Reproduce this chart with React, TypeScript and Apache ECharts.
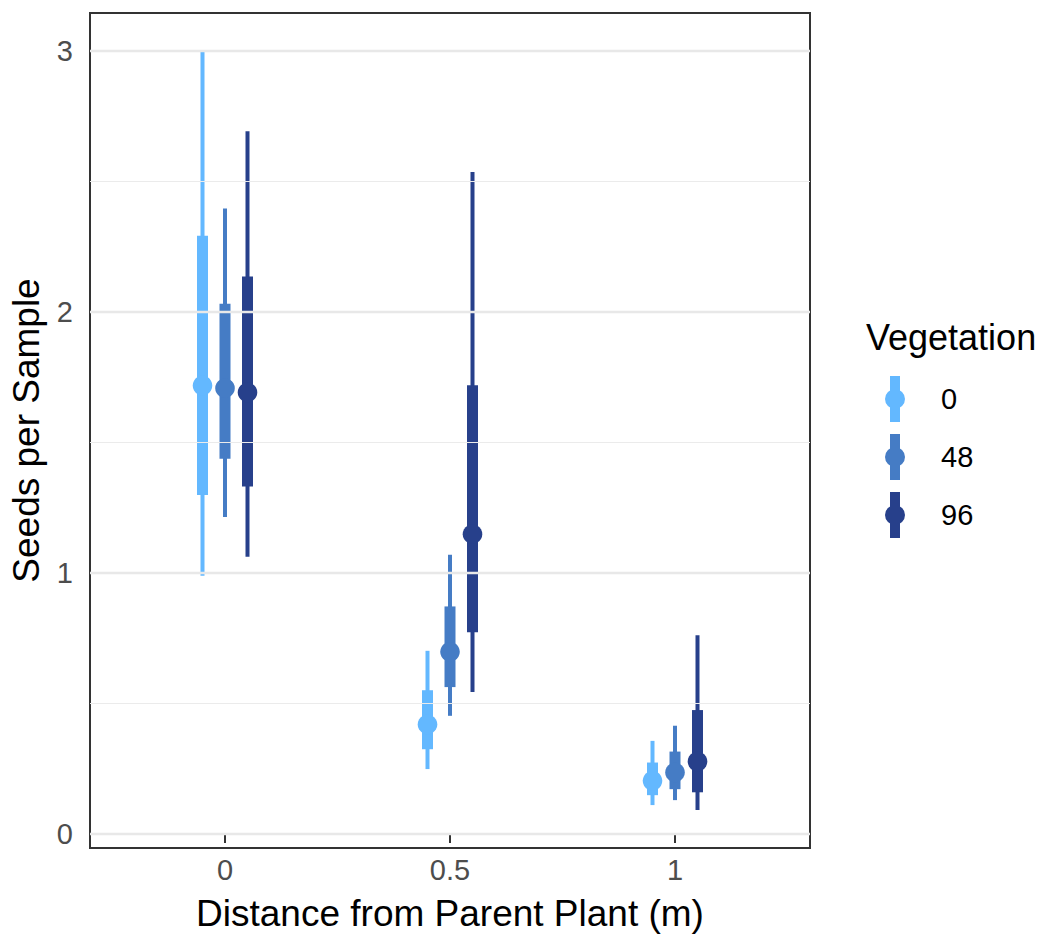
import React, { useEffect, useRef } from "react";
import * as echarts from "echarts";

const FONT = '"Liberation Sans", Arial, Helvetica, sans-serif';

// Categories
const distances = [0, 0.5, 1];
const distanceLabels = ["0", "0.5", "1"];
const vegetation = ["0", "48", "96"];
const dodge = [-0.05, 0, 0.05];
const colors = ["#63B8FF", "#457CC5", "#27408B"];

// Estimates per vegetation level, one value per distance
const mean0 = [1.718, 0.42, 0.204];
const lo95_0 = [0.99, 0.249, 0.111];
const hi95_0 = [3.0, 0.702, 0.357];
const lo66_0 = [1.299, 0.325, 0.149];
const hi66_0 = [2.292, 0.551, 0.274];

const mean48 = [1.708, 0.698, 0.236];
const lo95_48 = [1.215, 0.453, 0.13];
const hi95_48 = [2.396, 1.07, 0.415];
const lo66_48 = [1.4375, 0.563, 0.172];
const hi66_48 = [2.032, 0.872, 0.316];

const mean96 = [1.692, 1.149, 0.278];
const lo95_96 = [1.0625, 0.544, 0.092];
const hi95_96 = [2.692, 2.536, 0.762];
const lo66_96 = [1.331, 0.773, 0.16];
const hi66_96 = [2.136, 1.719, 0.475];

const yMajor = [0, 1, 2, 3];
const yMinor = [0.5, 1.5, 2.5];
const yLabels = ["0", "1", "2", "3"];

const groups = [
  { mean: mean0, lo95: lo95_0, hi95: hi95_0, lo66: lo66_0, hi66: hi66_0 },
  { mean: mean48, lo95: lo95_48, hi95: hi95_48, lo66: lo66_48, hi66: hi66_48 },
  { mean: mean96, lo95: lo95_96, hi95: hi95_96, lo66: lo66_96, hi66: hi66_96 },
];

const KEY_ICON =
  "path://M5,0 L15,0 L15,46 L5,46 Z M0,23 A10,10 0 1,1 20,23 A10,10 0 1,1 0,23 Z";

export default function App() {
  const ref = useRef<HTMLDivElement>(null);

  useEffect(() => {
    if (!ref.current) return;
    document.body.style.margin = "0";
    const chart = echarts.init(ref.current, undefined, { renderer: "svg" });

    const renderItem = (params: any, api: any) => {
      const x = api.value(0);
      const m = api.value(1);
      const top95 = api.coord([x, api.value(3)]);
      const bot95 = api.coord([x, api.value(2)]);
      const top66 = api.coord([x, api.value(5)]);
      const bot66 = api.coord([x, api.value(4)]);
      const pt = api.coord([x, m]);
      const color = api.visual("color");
      return {
        type: "group",
        children: [
          {
            type: "line",
            shape: { x1: pt[0], y1: top95[1], x2: pt[0], y2: bot95[1] },
            style: { stroke: color, lineWidth: 4 },
          },
          {
            type: "rect",
            shape: { x: pt[0] - 5.5, y: top66[1], width: 11, height: bot66[1] - top66[1] },
            style: { fill: color },
          },
          {
            type: "circle",
            shape: { cx: pt[0], cy: pt[1], r: 9.8 },
            style: { fill: color },
          },
        ],
      };
    };

    const dataSeries = vegetation.map((name, gi) => ({
      name,
      type: "custom",
      z: 3,
      renderItem,
      itemStyle: { color: colors[gi] },
      encode: { x: 0, y: [1, 2, 3, 4, 5] },
      data: distances.map((d, i) => [
        d + dodge[gi],
        groups[gi].mean[i],
        groups[gi].lo95[i],
        groups[gi].hi95[i],
        groups[gi].lo66[i],
        groups[gi].hi66[i],
      ]),
    }));

    const option: any = {
      animation: false,
      textStyle: { fontFamily: FONT },
      grid: {
        left: 88,
        right: 232,
        top: 13,
        bottom: 88,
        show: true,
        borderColor: "#333333",
        borderWidth: 2,
        backgroundColor: "transparent",
      },
      xAxis: {
        type: "value",
        min: -0.3,
        max: 1.3,
        splitLine: { show: false },
        axisLine: { show: false },
        axisTick: {
          show: true,
          customValues: distances,
          length: 9,
          lineStyle: { color: "#333333", width: 2 },
        },
        axisLabel: {
          customValues: distances,
          fontSize: 29,
          color: "#4D4D4D",
          margin: 7,
          fontFamily: FONT,
          formatter: (v: number) => distanceLabels[distances.indexOf(v)] ?? String(v),
        },
        name: "Distance from Parent Plant (m)",
        nameLocation: "middle",
        nameGap: 47,
        nameTextStyle: { fontSize: 37, color: "#000000", fontFamily: FONT },
      },
      yAxis: {
        type: "value",
        min: -0.0534,
        max: 3.1454,
        splitLine: { show: false },
        axisLine: { show: false },
        axisTick: {
          show: true,
          customValues: yMajor,
          length: 10,
          lineStyle: { color: "#333333", width: 2 },
        },
        axisLabel: {
          customValues: yMajor,
          fontSize: 29,
          color: "#4D4D4D",
          margin: 17,
          fontFamily: FONT,
          formatter: (v: number) => yLabels[yMajor.indexOf(v)] ?? String(v),
        },
        name: "Seeds per Sample",
        nameLocation: "middle",
        nameGap: 45,
        nameTextStyle: { fontSize: 37, color: "#000000", fontFamily: FONT },
      },
      legend: {
        data: vegetation,
        orient: "vertical",
        left: 885,
        top: 376,
        padding: 0,
        itemWidth: 20,
        itemHeight: 46,
        itemGap: 12,
        icon: KEY_ICON,
        selectedMode: false,
        textStyle: {
          fontSize: 29,
          color: "#000000",
          fontFamily: FONT,
          padding: [0, 0, 0, 31],
        },
      },
      graphic: [
        {
          type: "text",
          x: 866,
          y: 337,
          style: {
            text: "Vegetation",
            font: `36px ${FONT}`,
            fill: "#000000",
            textVerticalAlign: "middle",
          },
        },
      ],
      series: [
        {
          name: "grid",
          type: "line",
          z: 1,
          data: [],
          silent: true,
          markLine: {
            silent: true,
            symbol: "none",
            label: { show: false },
            lineStyle: { color: "#E6E6E6", type: "solid" },
            data: [
              ...yMajor.map((v) => ({ yAxis: v, lineStyle: { width: 2.4, color: "#E8E8E8", type: "solid" } })),
              ...yMinor.map((v) => ({ yAxis: v, lineStyle: { width: 1.2, color: "#EBEBEB", type: "solid" } })),
            ],
          },
        },
        ...dataSeries,
      ],
    };

    chart.setOption(option);
    return () => chart.dispose();
  }, []);

  return <div ref={ref} style={{ width: 1042, height: 937 }} />;
}
